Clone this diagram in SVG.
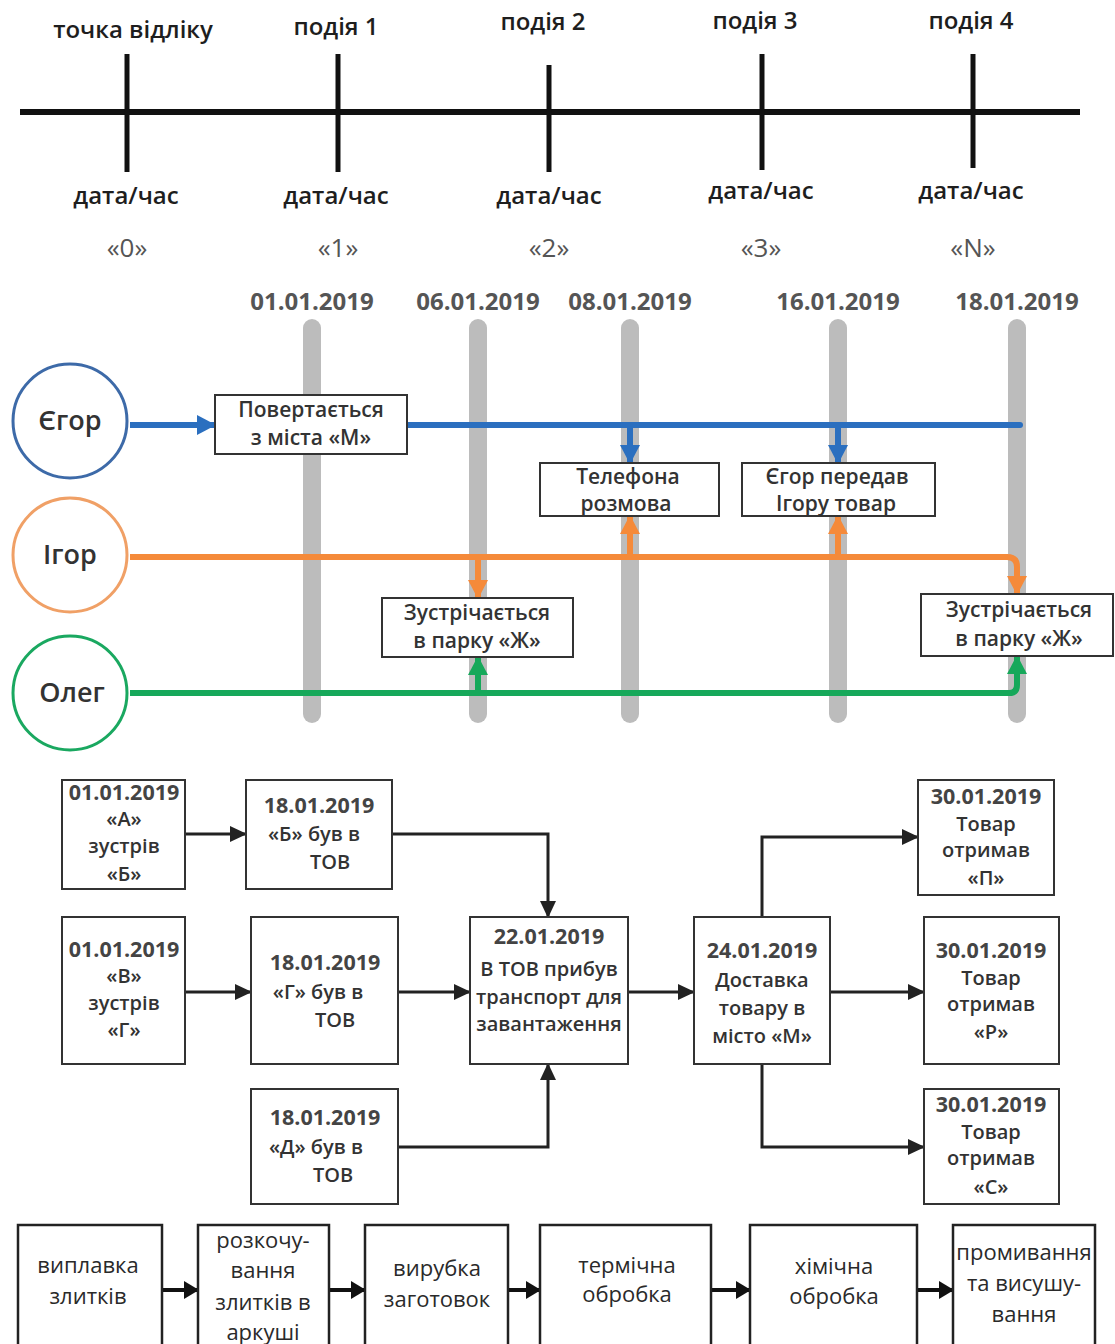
<svg xmlns="http://www.w3.org/2000/svg" width="1115" height="1344" viewBox="0 0 1115 1344">
<style>
text{font-family:"Open Sans","Noto Sans","Liberation Sans",sans-serif;text-anchor:middle;fill:#222}
.lbl{font-size:24px;font-weight:600;fill:#1e1e1e}
.q{font-size:26px;fill:#555}
.dt{font-size:24px;font-weight:bold;fill:#555}
.nm{font-size:27px;font-weight:600;fill:#333}
.bx{fill:#fff;stroke:#333;stroke-width:2}
.ev{font-size:21px;font-weight:600;fill:#333}
.fc{font-size:20px;font-weight:600;fill:#333}
.fcd{font-size:21.5px;font-weight:bold;fill:#444}
.pb{fill:#fff;stroke:#222;stroke-width:2.5}
.pt{font-size:22px;fill:#2a2a2a}
.tick{stroke:#111;stroke-width:5}
.bar{stroke:#bcbcbc;stroke-width:18;stroke-linecap:round}
.fl{fill:none;stroke:#222;stroke-width:3}
</style>
<defs>
<marker id="ak" markerUnits="userSpaceOnUse" markerWidth="18" markerHeight="16" refX="16" refY="8" orient="auto"><path d="M0,0 L17,8 L0,16 Z" fill="#222"/></marker>
<marker id="ab" markerUnits="userSpaceOnUse" markerWidth="20" markerHeight="20" refX="18" refY="10" orient="auto"><path d="M0,0 L19,10 L0,20 Z" fill="#2b6fbf"/></marker>
<marker id="ao" markerUnits="userSpaceOnUse" markerWidth="20" markerHeight="20" refX="18" refY="10" orient="auto"><path d="M0,0 L19,10 L0,20 Z" fill="#f58a3a"/></marker>
<marker id="ag" markerUnits="userSpaceOnUse" markerWidth="20" markerHeight="20" refX="18" refY="10" orient="auto"><path d="M0,0 L19,10 L0,20 Z" fill="#16a85a"/></marker>
<marker id="ap" markerUnits="userSpaceOnUse" markerWidth="16" markerHeight="18" refX="14" refY="9" orient="auto"><path d="M0,0 L15,9 L0,18 Z" fill="#111"/></marker>
</defs>
<rect width="1115" height="1344" fill="#fff"/>

<!-- Top timeline -->
<g id="timeline">
<line x1="20" y1="112" x2="1080" y2="112" stroke="#111" stroke-width="6"/>
<line class="tick" x1="127" y1="54" x2="127" y2="172"/>
<line class="tick" x1="338" y1="54" x2="338" y2="172"/>
<line class="tick" x1="549" y1="65" x2="549" y2="172"/>
<line class="tick" x1="762" y1="54" x2="762" y2="170"/>
<line class="tick" x1="973" y1="54" x2="973" y2="168"/>
</g>
<g id="t0"><text class="lbl" x="133" y="38">точка відліку</text><text class="lbl" x="126" y="204">дата/час</text><text class="q" x="127" y="257">«0»</text></g>
<g id="t1"><text class="lbl" x="336" y="35">подія 1</text><text class="lbl" x="336" y="204">дата/час</text><text class="q" x="338" y="257">«1»</text></g>
<g id="t2"><text class="lbl" x="543" y="30">подія 2</text><text class="lbl" x="549" y="204">дата/час</text><text class="q" x="549" y="257">«2»</text></g>
<g id="t3"><text class="lbl" x="755" y="29">подія 3</text><text class="lbl" x="761" y="199">дата/час</text><text class="q" x="761" y="257">«3»</text></g>
<g id="t4"><text class="lbl" x="971" y="29">подія 4</text><text class="lbl" x="971" y="199">дата/час</text><text class="q" x="973" y="257">«N»</text></g>

<!-- Middle: date bars -->
<g id="dates">
<text class="dt" x="312" y="310">01.01.2019</text>
<text class="dt" x="478" y="310">06.01.2019</text>
<text class="dt" x="630" y="310">08.01.2019</text>
<text class="dt" x="838" y="310">16.01.2019</text>
<text class="dt" x="1017" y="310">18.01.2019</text>
<line class="bar" x1="312" y1="328" x2="312" y2="714"/>
<line class="bar" x1="478" y1="328" x2="478" y2="714"/>
<line class="bar" x1="630" y1="328" x2="630" y2="714"/>
<line class="bar" x1="838" y1="328" x2="838" y2="714"/>
<line class="bar" x1="1017" y1="328" x2="1017" y2="714"/>
</g>

<g id="connectors-people" fill="none" stroke-width="6">
<path d="M130,425 H215" stroke="#2b6fbf" marker-end="url(#ab)"/>
<path d="M407,425 H1020" stroke="#2b6fbf" stroke-linecap="round"/>
<path d="M630,425 V463" stroke="#2b6fbf" marker-end="url(#ab)"/>
<path d="M838,425 V463" stroke="#2b6fbf" marker-end="url(#ab)"/>
<path d="M130,557 H1007 Q1017,557 1017,567 V594" stroke="#f58a3a" marker-end="url(#ao)"/>
<path d="M630,557 V516" stroke="#f58a3a" marker-end="url(#ao)"/>
<path d="M838,557 V516" stroke="#f58a3a" marker-end="url(#ao)"/>
<path d="M478,557 V598" stroke="#f58a3a" marker-end="url(#ao)"/>
<path d="M130,693 H1009 Q1017,693 1017,685 V656" stroke="#16a85a" marker-end="url(#ag)"/>
<path d="M478,693 V657" stroke="#16a85a" marker-end="url(#ag)"/>
</g>

<g id="egor"><circle cx="70" cy="421" r="57" fill="#fff" stroke="#3d6aa8" stroke-width="3"/><text class="nm" x="70" y="430">Єгор</text></g>
<g id="igor"><circle cx="70" cy="555" r="57" fill="#fff" stroke="#f0a066" stroke-width="3"/><text class="nm" x="70" y="564">Ігор</text></g>
<g id="oleg"><circle cx="70" cy="693" r="57" fill="#fff" stroke="#1aa860" stroke-width="3"/><text class="nm" x="72" y="702">Олег</text></g>

<g id="ev-return"><rect class="bx" x="215" y="395" width="192" height="59"/><text class="ev" x="311" y="417">Повертається</text><text class="ev" x="311" y="445">з міста «М»</text></g>
<g id="ev-phone"><rect class="bx" x="540" y="463" width="179" height="53"/><text class="ev" x="628" y="484">Телефона</text><text class="ev" x="626" y="511">розмова</text></g>
<g id="ev-goods"><rect class="bx" x="742" y="463" width="193" height="53"/><text class="ev" x="837" y="484">Єгор передав</text><text class="ev" x="836" y="511">Ігору товар</text></g>
<g id="ev-park1"><rect class="bx" x="382" y="598" width="191" height="59"/><text class="ev" x="477" y="620">Зустрічається</text><text class="ev" x="477" y="648">в парку «Ж»</text></g>
<g id="ev-park2"><rect class="bx" x="921" y="594" width="192" height="62"/><text class="ev" x="1019" y="617">Зустрічається</text><text class="ev" x="1019" y="646">в парку «Ж»</text></g>

<!-- Flowchart -->
<g id="flow-connectors" class="fl">
<path class="fl" d="M185,834 H246" marker-end="url(#ak)"/>
<path class="fl" d="M185,992 H251" marker-end="url(#ak)"/>
<path class="fl" d="M392,834 H548 V917" marker-end="url(#ak)"/>
<path class="fl" d="M398,992 H470" marker-end="url(#ak)"/>
<path class="fl" d="M398,1147 H548 V1064" marker-end="url(#ak)"/>
<path class="fl" d="M628,992 H694" marker-end="url(#ak)"/>
<path class="fl" d="M762,917 V837 H918" marker-end="url(#ak)"/>
<path class="fl" d="M830,992 H924" marker-end="url(#ak)"/>
<path class="fl" d="M762,1064 V1147 H924" marker-end="url(#ak)"/>
</g>

<g id="fA"><rect class="bx" x="62" y="780" width="123" height="109"/><text class="fcd" x="124" y="800">01.01.2019</text><text class="fc" x="124" y="826">«А»</text><text class="fc" x="124" y="853">зустрів</text><text class="fc" x="124" y="881">«Б»</text></g>
<g id="fB"><rect class="bx" x="246" y="780" width="146" height="109"/><text class="fcd" x="319" y="813">18.01.2019</text><text class="fc" x="314" y="841">«Б» був в</text><text class="fc" x="330" y="869">ТОВ</text></g>
<g id="fV"><rect class="bx" x="62" y="917" width="123" height="147"/><text class="fcd" x="124" y="957">01.01.2019</text><text class="fc" x="124" y="983">«В»</text><text class="fc" x="124" y="1010">зустрів</text><text class="fc" x="124" y="1037">«Г»</text></g>
<g id="fG"><rect class="bx" x="251" y="917" width="147" height="147"/><text class="fcd" x="325" y="970">18.01.2019</text><text class="fc" x="318" y="999">«Г»  був в</text><text class="fc" x="335" y="1027">ТОВ</text></g>
<g id="fD"><rect class="bx" x="251" y="1089" width="147" height="115"/><text class="fcd" x="325" y="1125">18.01.2019</text><text class="fc" x="316" y="1154">«Д» був в</text><text class="fc" x="333" y="1182">ТОВ</text></g>
<g id="fC"><rect class="bx" x="470" y="917" width="158" height="147"/><text class="fcd" x="549" y="944">22.01.2019</text><text class="fc" x="549" y="976">В ТОВ прибув</text><text class="fc" x="549" y="1004">транспорт для</text><text class="fc" x="549" y="1031">завантаження</text></g>
<g id="fM"><rect class="bx" x="694" y="917" width="136" height="147"/><text class="fcd" x="762" y="958">24.01.2019</text><text class="fc" x="762" y="987">Доставка</text><text class="fc" x="762" y="1015">товару в</text><text class="fc" x="762" y="1043">місто «М»</text></g>
<g id="fP"><rect class="bx" x="918" y="780" width="136" height="115"/><text class="fcd" x="986" y="804">30.01.2019</text><text class="fc" x="986" y="831">Товар</text><text class="fc" x="986" y="857">отримав</text><text class="fc" x="986" y="885">«П»</text></g>
<g id="fR"><rect class="bx" x="924" y="917" width="135" height="147"/><text class="fcd" x="991" y="958">30.01.2019</text><text class="fc" x="991" y="985">Товар</text><text class="fc" x="991" y="1011">отримав</text><text class="fc" x="991" y="1039">«Р»</text></g>
<g id="fS"><rect class="bx" x="924" y="1089" width="135" height="115"/><text class="fcd" x="991" y="1112">30.01.2019</text><text class="fc" x="991" y="1139">Товар</text><text class="fc" x="991" y="1165">отримав</text><text class="fc" x="991" y="1194">«С»</text></g>

<!-- Process row -->
<g id="proc-connectors" fill="none" stroke="#111" stroke-width="4">
<path d="M162,1290 H198" marker-end="url(#ap)"/>
<path d="M329,1290 H365" marker-end="url(#ap)"/>
<path d="M508,1290 H540" marker-end="url(#ap)"/>
<path d="M711,1290 H750" marker-end="url(#ap)"/>
<path d="M917,1290 H953" marker-end="url(#ap)"/>
</g>
<g id="p1"><rect class="pb" x="18" y="1225" width="144" height="130"/><text class="pt" x="88" y="1273">виплавка</text><text class="pt" x="88" y="1304">злитків</text></g>
<g id="p2"><rect class="pb" x="198" y="1225" width="131" height="130"/><text class="pt" x="263" y="1248">розкочу-</text><text class="pt" x="263" y="1278">вання</text><text class="pt" x="263" y="1310">злитків в</text><text class="pt" x="263" y="1340">аркуші</text></g>
<g id="p3"><rect class="pb" x="365" y="1225" width="143" height="130"/><text class="pt" x="437" y="1276">вирубка</text><text class="pt" x="437" y="1307">заготовок</text></g>
<g id="p4"><rect class="pb" x="540" y="1225" width="171" height="130"/><text class="pt" x="627" y="1273">термічна</text><text class="pt" x="627" y="1302">обробка</text></g>
<g id="p5"><rect class="pb" x="750" y="1225" width="167" height="130"/><text class="pt" x="834" y="1274">хімічна</text><text class="pt" x="834" y="1304">обробка</text></g>
<g id="p6"><rect class="pb" x="953" y="1225" width="142" height="130"/><text class="pt" x="1024" y="1260">промивання</text><text class="pt" x="1024" y="1291">та висушу-</text><text class="pt" x="1024" y="1322">вання</text></g>
</svg>
